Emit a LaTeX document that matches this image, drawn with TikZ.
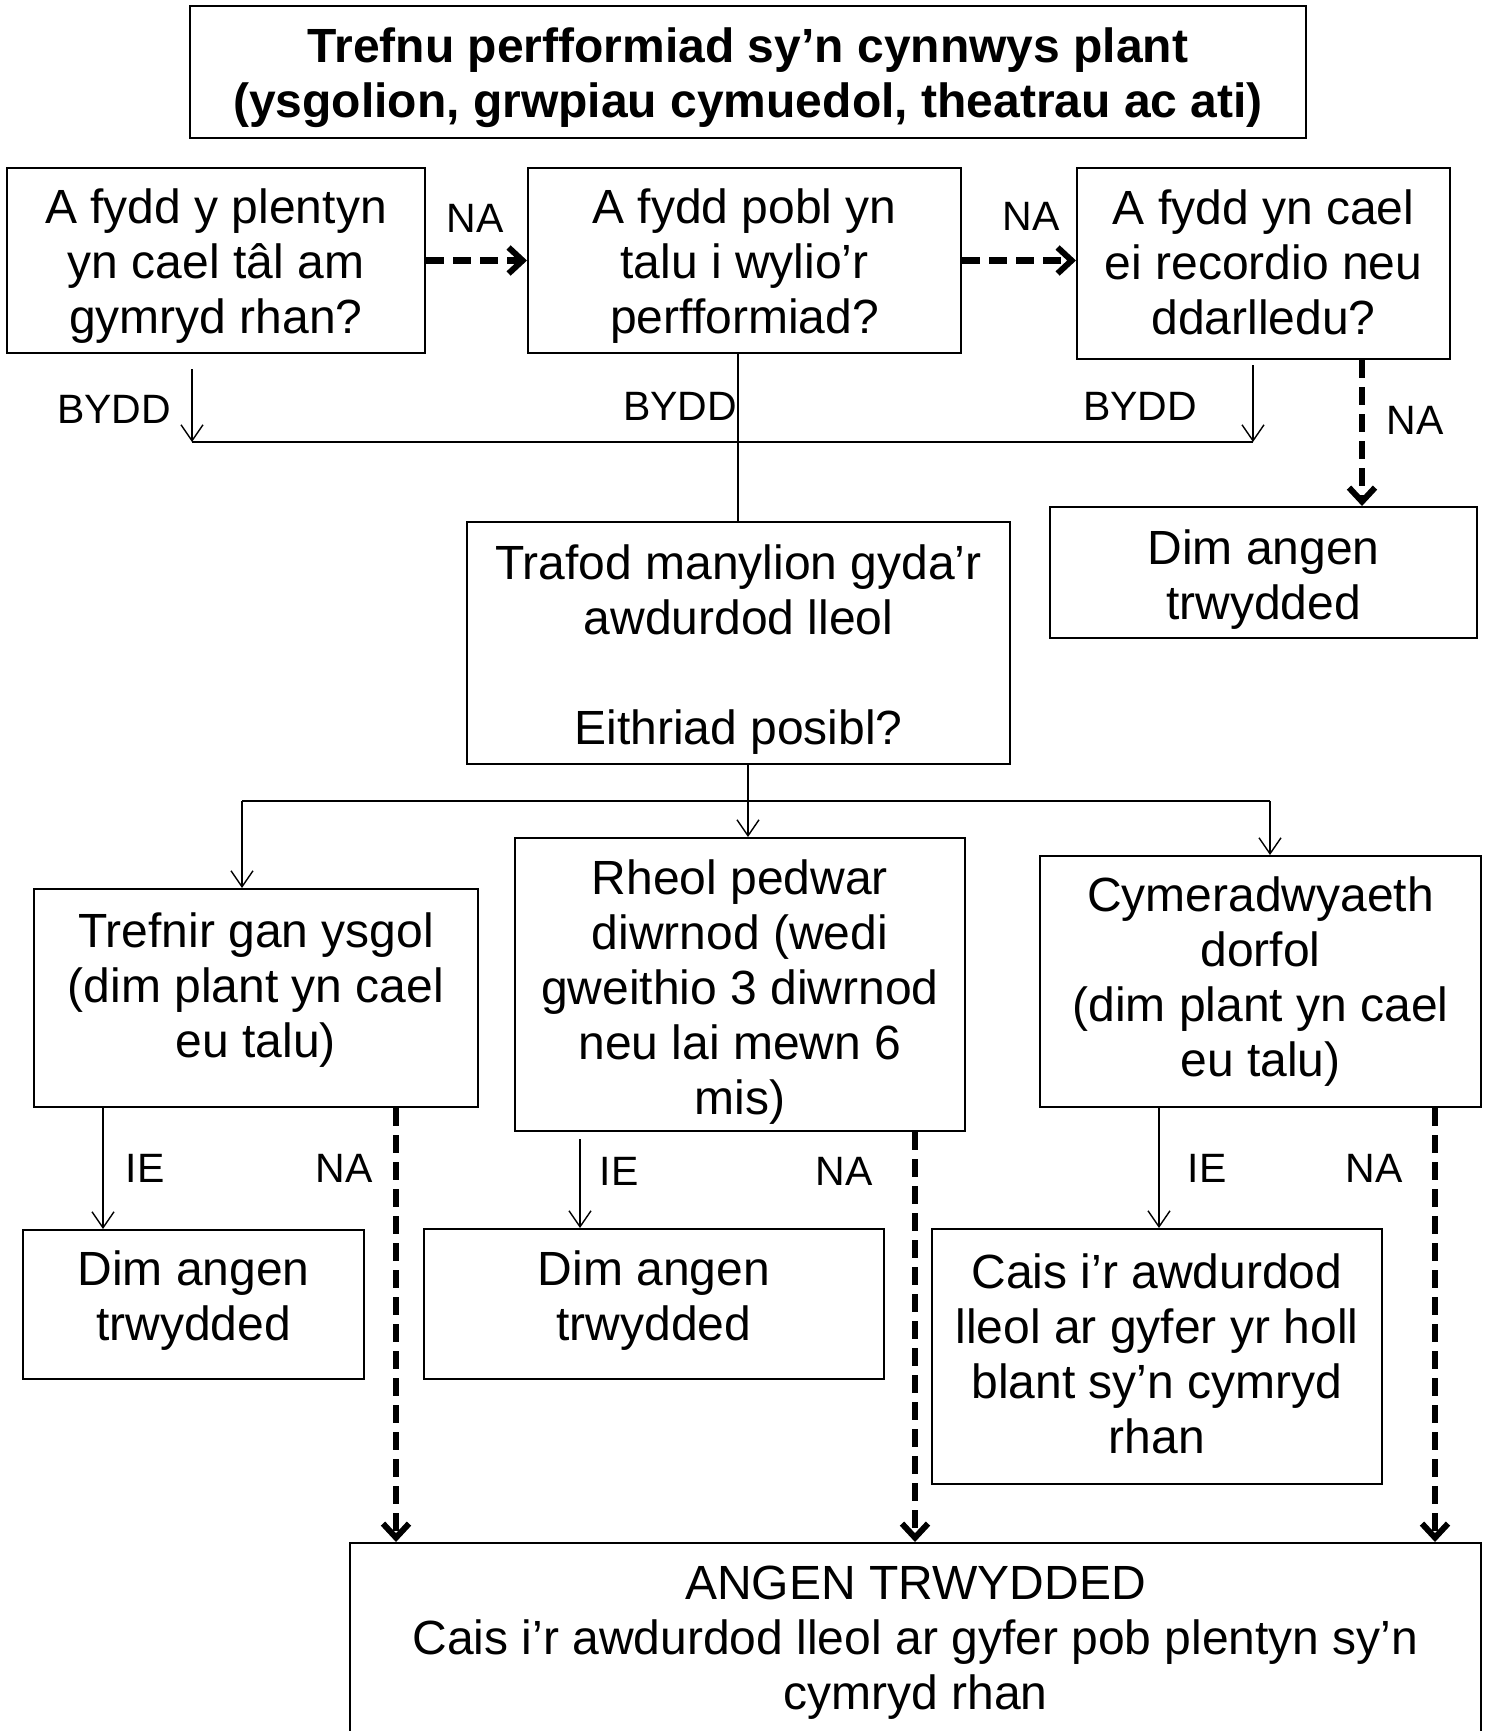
\documentclass[tikz,border=0pt]{standalone}
\usepackage{fontspec}
\setmainfont{Liberation Sans}
\usetikzlibrary{arrows.meta}
\newcommand\boxnode[7]{%
  \node[box, minimum width={(#4-#2)*0.5pt}, minimum height={(#5-#3)*0.5pt}] (#1) at ({(#2+#4)/2},{(#3+#5)/2}) {};
  \node[txt] (#1-t) at ({(#2+#4)/2},{#6+2}) {#7};}
\begin{document}
\begin{tikzpicture}[x=0.5pt,y=-0.5pt,
  box/.style={draw, line width=1pt, inner sep=0pt},
  txt/.style={font=\fontsize{24}{27.5}\selectfont, align=center, inner sep=0pt},
  ttl/.style={font=\bfseries\fontsize{24}{27.5}\selectfont, align=center, inner sep=0pt},
  lbl/.style={font=\fontsize{20.5}{24}\selectfont, inner sep=0pt},
  iearrow/.style={line width=0.7pt, -{Straight Barb[length=8pt,width=11pt]}},
  plainline/.style={line width=0.7pt},
  naarrow/.style={line width=3.2pt, dash pattern=on 9pt off 4.5pt, -{Straight Barb[length=7pt,width=13pt,line width=3pt]}},
]
\useasboundingbox (0,0) rectangle (1489,1731);

% title
\node[box, minimum width={(1306-190)*0.5pt}, minimum height={(138-6)*0.5pt}] (T) at (748,72) {};
\node[ttl] (T-t) at (748,78) {Trefnu perfformiad sy’n cynnwys plant\\(ysgolion, grwpiau cymuedol, theatrau ac ati)};

% top row
\boxnode{A}{7}{168}{425}{353}{264}{A fydd y plentyn\\yn cael tâl am\\gymryd rhan?}
\boxnode{B}{528}{168}{961}{353}{264}{A fydd pobl yn\\talu i wylio’r\\perfformiad?}
\boxnode{C}{1077}{168}{1450}{359}{260}{A fydd yn cael\\ei recordio neu\\ddarlledu?}
\boxnode{E}{1050}{507}{1477}{638}{578}{Dim angen\\trwydded}
\boxnode{D}{467}{522}{1010}{764}{648}{Trafod manylion gyda’r\\awdurdod lleol\\[27.5pt]Eithriad posibl?}

% middle row
\boxnode{F}{34}{889}{478}{1107}{988}{Trefnir gan ysgol\\(dim plant yn cael\\eu talu)}
\boxnode{G}{515}{838}{965}{1131}{990}{Rheol pedwar\\diwrnod (wedi\\gweithio 3 diwrnod\\neu lai mewn 6\\mis)}
\boxnode{H}{1040}{856}{1481}{1107}{980}{Cymeradwyaeth\\dorfol\\(dim plant yn cael\\eu talu)}

% lower row
\boxnode{I}{23}{1230}{364}{1379}{1299}{Dim angen\\trwydded}
\boxnode{J}{424}{1229}{884}{1379}{1299}{Dim angen\\trwydded}
\boxnode{K}{932}{1229}{1382}{1484}{1352}{Cais i’r awdurdod\\lleol ar gyfer yr holl\\blant sy’n cymryd\\rhan}
\boxnode{L}{350}{1543}{1481}{1737}{1641}{ANGEN TRWYDDED\\Cais i’r awdurdod lleol ar gyfer pob plentyn sy’n\\cymryd rhan}

% coordinates
\coordinate (jL) at (192,442);
\coordinate (jR) at (1253,442);
\coordinate (bx) at (738,0);
\coordinate (cE) at (1362,0);
\coordinate (sp) at (748,801);
\coordinate (sL) at (242,801);
\coordinate (sR) at (1270,801);
\coordinate (xF) at (103,0);
\coordinate (xG) at (580,0);
\coordinate (xH) at (1159,0);
\coordinate (nF) at (396,0);
\coordinate (nG) at (915,0);
\coordinate (nH) at (1435,0);

% top connectors
\draw[naarrow] (A.east) -- (B.west);
\draw[naarrow] (B.east) -- (B.east -| C.west);
\draw[naarrow] (C.south -| cE) -- (E.north -| cE);
\draw[plainline] (jL) -- (jR);
\draw[iearrow] (A.south -| jL) ++(0,15) -- (jL);
\draw[iearrow] (C.south -| jR) ++(0,5) -- (jR);
\draw[plainline] (B.south -| bx) -- (D.north -| bx);

% split from D
\draw[plainline] (sL) -- (sR);
\draw[iearrow] (D.south -| sp) -- (G.north -| sp);
\draw[iearrow] (sL) -- (F.north -| sL);
\draw[iearrow] (sR) -- (H.north -| sR);

% lower connectors
\draw[iearrow] (F.south -| xF) -- (I.north -| xF);
\draw[iearrow] (G.south -| xG) ++(0,7) -- (J.north -| xG);
\draw[iearrow] (H.south -| xH) -- (K.north -| xH);
\draw[naarrow] (F.south -| nF) -- (L.north -| nF);
\draw[naarrow] (G.south -| nG) -- (L.north -| nG);
\draw[naarrow] (H.south -| nH) -- (L.north -| nH);

% labels
\node[lbl] (l1) at (475,218) {NA};
\node[lbl] (l2) at (1031,216) {NA};
\node[lbl] (l3) at (1415,420) {NA};
\node[lbl] (l4) at (114,409) {BYDD};
\node[lbl] (l5) at (680,406) {BYDD};
\node[lbl] (l6) at (1140,406) {BYDD};
\node[lbl] (l7) at (145,1168) {IE};
\node[lbl] (l8) at (344,1168) {NA};
\node[lbl] (l9) at (619,1171) {IE};
\node[lbl] (l10) at (844,1171) {NA};
\node[lbl] (l11) at (1207,1168) {IE};
\node[lbl] (l12) at (1374,1168) {NA};
\end{tikzpicture}
\end{document}
